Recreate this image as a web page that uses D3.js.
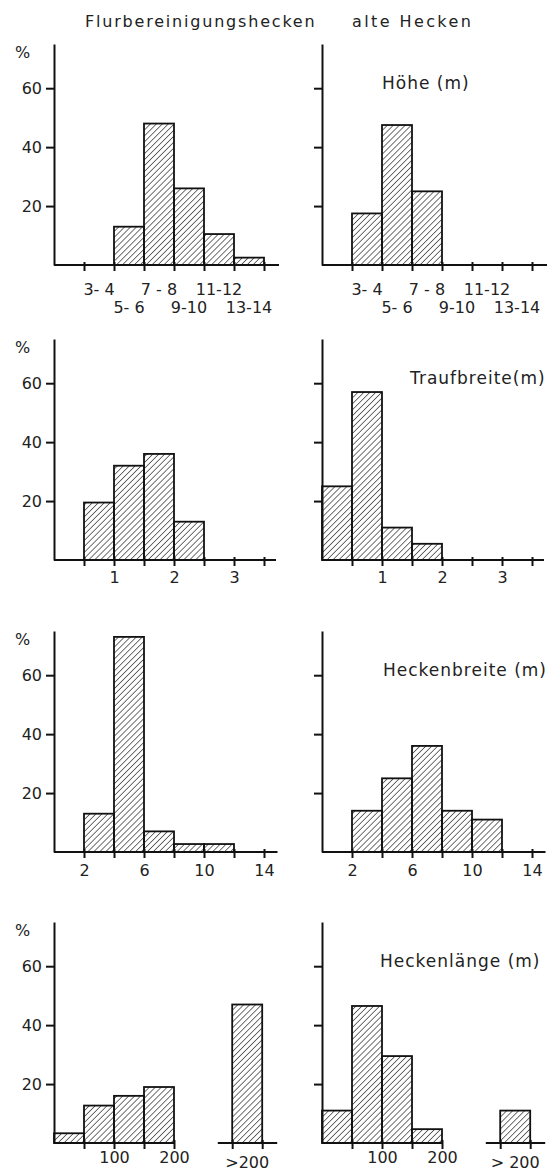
<!DOCTYPE html>
<html>
<head>
<meta charset="utf-8">
<script src="https://cdn.jsdelivr.net/npm/d3@7"></script>
<style>
    body { margin: 0; background: #fff; }
    svg text { font-family: 'DejaVu Sans', sans-serif; fill: #222; font-size: 16px; }
    .axis path, .axis line { stroke: #111; stroke-width: 2; }
    .bar { fill: url(#hatch); stroke: #111; stroke-width: 1.8; }
    .title { font-size: 17px; letter-spacing: 1px; }
</style>
</head>
<body>
<div id="chart"></div>
<script>
// column headers
const columnNames = ['Flurbereinigungshecken', 'alte Hecken']
const yTicks = [20, 40, 60]

// Höhe (m): classes of 2 m
const hoeheClasses = ['3- 4', '5- 6', '7 - 8', '9-10', '11-12', '13-14']
const hoeheFlur = [0, 13, 48, 26, 10.5, 2.5]
const hoeheAlt = [17.5, 47.5, 25, 0, 0, 0]

// Traufbreite (m)
const traufEdges = [0, 0.5, 1, 1.5, 2, 2.5]
const traufFlur = [0, 19.5, 32, 36, 13]
const traufAlt = [25, 57, 11, 5.5, 0]
const traufTicks = [0.5, 1, 1.5, 2, 2.5, 3, 3.5]
const traufLabels = ['', '1', '', '2', '', '3', '']

// Heckenbreite (m)
const breiteEdges = [0, 2, 4, 6, 8, 10, 12]
const breiteFlur = [0, 13, 73, 7, 2.7, 2.7]
const breiteAlt = [0, 14, 25, 36, 14, 11]
const breiteTicks = [2, 4, 6, 8, 10, 12, 14]
const breiteLabels = ['2', '', '6', '', '10', '', '14']

// Heckenlänge (m), plus the separate ">200" class
const laengeEdges = [0, 50, 100, 150, 200]
const laengeFlur = [3.3, 12.7, 16, 19]
const laengeAlt = [11, 46.5, 29.5, 4.7]
const laengeOver = [47, 11]
const laengeOverLabels = ['>200', '> 200']
const laengeTicks = [50, 100, 150, 200]
const laengeLabels = ['', '100', '', '200']

const svg = d3.select('#chart').append('svg')
    .attr('width', 551)
    .attr('height', 1173)

// diagonal hatching used for every bar
svg.append('defs').append('pattern')
    .attr('id', 'hatch')
    .attr('patternUnits', 'userSpaceOnUse')
    .attr('width', 4.2)
    .attr('height', 4.2)
    .attr('patternTransform', 'rotate(45)')
    .append('line')
    .attr('x1', 0).attr('y1', 0)
    .attr('x2', 0).attr('y2', 4.2)
    .attr('stroke', '#111')
    .attr('stroke-width', 1.2)

// headers
svg.append('text').attr('x', 85).attr('y', 27).attr('letter-spacing', 1.8).text(columnNames[0])
svg.append('text').attr('x', 352).attr('y', 27).attr('letter-spacing', 2.4).text(columnNames[1])

const bins = (edges, values) => values.map((v, i) => ({ lo: edges[i], hi: edges[i + 1], v }))

const rows = [
    {
        title: 'Höhe (m)', titleX: 60, baseline: 265, xDomain: [0, 7.5], labelY: 29,
        ticks: [1, 2, 3, 4, 5, 6, 7], tickLabels: null, baseEnd: 7.5,
        data: [hoeheFlur, hoeheAlt].map(vals => vals.map((v, i) => ({ lo: i + 1, hi: i + 2, v })))
    },
    {
        title: 'Traufbreite(m)', titleX: 88, baseline: 560, xDomain: [0, 3.75], labelY: 28,
        ticks: traufTicks, tickLabels: traufLabels, baseEnd: 3.7,
        data: [bins(traufEdges, traufFlur), bins(traufEdges, traufAlt)]
    },
    {
        title: 'Heckenbreite (m)', titleX: 61, baseline: 852, xDomain: [0, 15], labelY: 29,
        ticks: breiteTicks, tickLabels: breiteLabels, baseEnd: 14.9,
        data: [bins(breiteEdges, breiteFlur), bins(breiteEdges, breiteAlt)]
    },
    {
        title: 'Heckenlänge (m)', titleX: 58, baseline: 1143, xDomain: [0, 375], labelY: 25,
        ticks: laengeTicks, tickLabels: laengeLabels, baseEnd: 200,
        data: [bins(laengeEdges, laengeFlur), bins(laengeEdges, laengeAlt)]
    }
]

rows.forEach((row, r) => {
    [0, 1].forEach(col => {
        const axisX = col ? 322 : 54
        const g = svg.append('g').attr('transform', `translate(${axisX},0)`)

        const x = d3.scaleLinear().domain(row.xDomain).range([0, 225])
        const y = d3.scaleLinear().domain([0, 75]).range([row.baseline, row.baseline - 221])

        // bars
        g.selectAll('.bar')
            .data(row.data[col].filter(d => d.v > 0))
            .join('rect')
            .attr('class', 'bar')
            .attr('x', d => x(d.lo))
            .attr('width', d => x(d.hi) - x(d.lo))
            .attr('y', d => y(d.v))
            .attr('height', d => y(0) - y(d.v))

        // ">200" class sits apart on its own short baseline
        if (r === 3) {
            const over = [{ lo: 297, hi: 347, v: laengeOver[col] }]
            g.selectAll('.bar-over')
                .data(over)
                .join('rect')
                .attr('class', 'bar')
                .attr('x', d => x(d.lo))
                .attr('width', d => x(d.hi) - x(d.lo))
                .attr('y', d => y(d.v))
                .attr('height', d => y(0) - y(d.v))

            const overAxis = g.append('g')
                .attr('class', 'axis')
                .attr('transform', `translate(0,${row.baseline})`)
                .call(d3.axisBottom(x).tickValues([297, 347]).tickSizeInner(6).tickSizeOuter(0).tickFormat(''))
            overAxis.select('.domain').remove()
            overAxis.selectAll('.tick line').attr('y1', -3)
            overAxis.append('line')
                .attr('x1', x(273)).attr('x2', x(372))
                .attr('stroke', '#111').attr('stroke-width', 2)
            g.append('text')
                .attr('x', x(322))
                .attr('y', row.baseline + row.labelY)
                .attr('text-anchor', 'middle')
                .text(laengeOverLabels[col])
        }

        // y axis
        const yAxisG = g.append('g')
            .attr('class', 'axis')
            .call(d3.axisLeft(y).tickValues(yTicks).tickSizeInner(8).tickSizeOuter(0)
                .tickFormat(col ? '' : d3.format('d')))
        yAxisG.selectAll('.tick text').attr('x', -12).attr('fill', '#222').style('font-size', '16px')
            .style('font-family', "'DejaVu Sans', sans-serif")

        if (!col) {
            g.append('text')
                .attr('x', -39)
                .attr('y', y(72))
                .attr('dy', '.35em')
                .text('%')
        }

        // x axis
        const xAxisG = g.append('g')
            .attr('class', 'axis')
            .attr('transform', `translate(0,${row.baseline})`)
            .call(d3.axisBottom(x).tickValues(row.ticks).tickSizeInner(6).tickSizeOuter(0)
                .tickFormat((d, i) => row.tickLabels ? row.tickLabels[i] : ''))
        xAxisG.select('.domain').remove()
        xAxisG.selectAll('.tick line').attr('y1', -3)
        xAxisG.selectAll('.tick text').attr('y', row.labelY - 16).attr('fill', '#222')
            .style('font-size', '16px').style('font-family', "'DejaVu Sans', sans-serif")
        xAxisG.append('line')
            .attr('x1', 0).attr('x2', x(row.baseEnd))
            .attr('stroke', '#111').attr('stroke-width', 2)

        // Höhe classes are labelled in two staggered rows
        if (r === 0) {
            g.selectAll('.class-label')
                .data(hoeheClasses)
                .join('text')
                .attr('x', (d, i) => x(i + 1.5))
                .attr('y', (d, i) => row.baseline + (i % 2 ? 48 : 30))
                .attr('text-anchor', 'middle')
                .text(d => d)
        }

        if (col) {
            g.append('text')
                .attr('class', 'title')
                .attr('x', row.titleX)
                .attr('y', y(60) + 1)
                .text(row.title)
        }
    })
})
</script>
</body>
</html>
